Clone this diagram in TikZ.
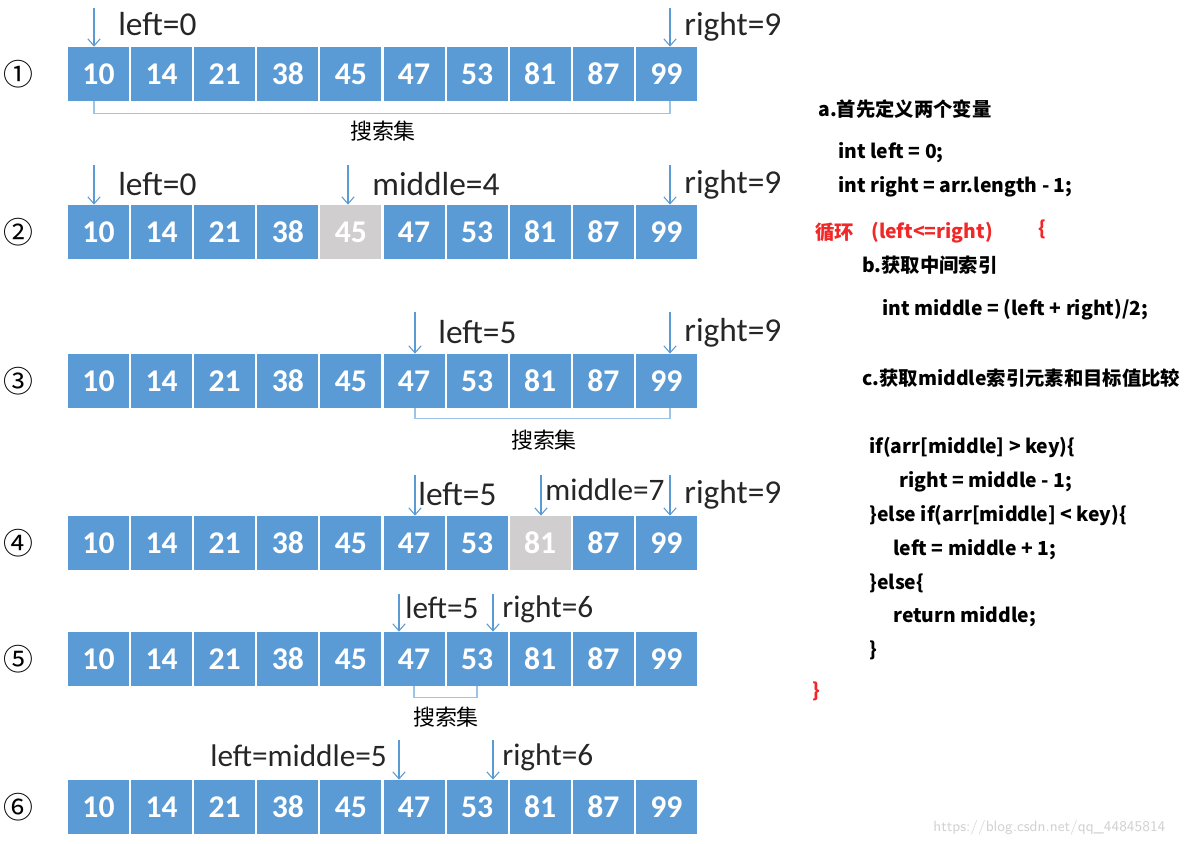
\documentclass[tikz,border=0pt]{standalone}
\usepackage{fontspec}
\setmainfont{Carlito}
\newfontfamily\cjk{Noto Sans CJK SC}
\usetikzlibrary{arrows.meta, positioning}
\definecolor{cellblue}{HTML}{5B9BD5}
\definecolor{cellgray}{HTML}{D0CECE}
\definecolor{brktblue}{HTML}{9DC3E6}
\definecolor{codered}{HTML}{F02828}

\tikzset{
  cell/.style={minimum width=1.22cm, minimum height=1.08cm, inner sep=0pt,
    text=white, font=\fontsize{18}{18}\selectfont\bfseries},
  ptr/.style={draw=cellblue, line width=0.6pt, -{Straight Barb[length=4pt,width=7pt]}},
  ptrlabel/.style={anchor=base west, inner sep=0pt, text=black!85,
    font=\fontsize{19}{19}\selectfont},
  smallptrlabel/.style={ptrlabel, font=\fontsize{17.8}{17.8}\selectfont},
  rownum/.style={inner sep=0pt, font=\cjk\fontsize{17}{17}\selectfont},
  brkt/.style={draw=brktblue, line width=0.8pt},
  setlabel/.style={inner sep=0pt, font=\cjk\fontsize{12.5}{12.5}\selectfont},
  code/.style={anchor=base west, inner sep=0pt, font=\cjk\bfseries\fontsize{11}{11}\selectfont},
  redcode/.style={code, text=codered},
}

\begin{document}
\begin{tikzpicture}[x=0.02cm, y=-0.02cm]
  \useasboundingbox (0,0) rectangle (1186,844);

  % Arrays, one per step
  \foreach \r/\y/\m/\num in {1/74/-1/①, 2/232/4/②, 3/381/-1/③, 4/543/7/④, 5/659/-1/⑤, 6/807/-1/⑥} {
    \node[rownum] (n\r) at (18,\y) {\num};
    \foreach \v [count=\i from 0] in {10,14,21,38,45,47,53,81,87,99} {
      \ifnum\i=\m\relax \def\cellcol{cellgray}\else\def\cellcol{cellblue}\fi
      \node[cell, fill=\cellcol] (r\r c\i) at ({98.5+63.1*\i},\y) {\v};
    }
  }

  % Step 1
  \coordinate (p1l) at (94,8);
  \coordinate (p1r) at (670,8);
  \draw[ptr] (p1l) -- (p1l |- r1c0.north);
  \draw[ptr] (p1r) -- (p1r |- r1c9.north);
  \node[ptrlabel] (t1l) at (118,36) {left=0};
  \node[ptrlabel] (t1r) at (684,36) {right=9};
  \draw[brkt] (p1l |- r1c0.south) -- ++(0,12) -| (p1r |- r1c9.south);
  \node[setlabel] (s1) at (383,131) {搜索集};

  % Step 2
  \coordinate (p2l) at (94,165);
  \coordinate (p2m) at (348,165);
  \coordinate (p2r) at (670,165);
  \draw[ptr] (p2l) -- (p2l |- r2c0.north);
  \draw[ptr] (p2m) -- (p2m |- r2c4.north);
  \draw[ptr] (p2r) -- (p2r |- r2c9.north);
  \node[ptrlabel] (t2l) at (118,196) {left=0};
  \node[ptrlabel] (t2m) at (372,196) {middle=4};
  \node[ptrlabel] (t2r) at (684,194) {right=9};

  % Step 3
  \coordinate (p3l) at (415,312);
  \coordinate (p3r) at (670,312);
  \draw[ptr] (p3l) -- (p3l |- r3c5.north);
  \draw[ptr] (p3r) -- (p3r |- r3c9.north);
  \node[ptrlabel] (t3l) at (438,343) {left=5};
  \node[ptrlabel] (t3r) at (684,341) {right=9};
  \draw[brkt] (p3l |- r3c5.south) -- ++(0,10) -| (p3r |- r3c9.south);
  \node[setlabel] (s3) at (544,440) {搜索集};

  % Step 4
  \coordinate (p4l) at (415,475);
  \coordinate (p4m) at (541,475);
  \coordinate (p4r) at (670,475);
  \draw[ptr] (p4l) -- (p4l |- r4c5.north);
  \draw[ptr] (p4m) -- (p4m |- r4c7.north);
  \draw[ptr] (p4r) -- (p4r |- r4c9.north);
  \node[ptrlabel] (t4l) at (418,505) {left=5};
  \node[smallptrlabel] (t4m) at (545,500) {middle=7};
  \node[ptrlabel] (t4r) at (684,503) {right=9};

  % Step 5
  \coordinate (p5l) at (399,594);
  \coordinate (p5r) at (493,594);
  \draw[ptr] (p5l) -- (p5l |- r5c5.north);
  \draw[ptr] (p5r) -- (p5r |- r5c6.north);
  \node[smallptrlabel] (t5l) at (405,618) {left=5};
  \node[smallptrlabel] (t5r) at (502,617) {right=6};
  \draw[brkt] (r5c5.south) -- ++(0,11) -| (r5c6.south);
  \node[setlabel] (s5) at (446,717) {搜索集};

  % Step 6
  \coordinate (p6l) at (399,740);
  \coordinate (p6r) at (493,740);
  \draw[ptr] (p6l) -- (p6l |- r6c5.north);
  \draw[ptr] (p6r) -- (p6r |- r6c6.north);
  \node[smallptrlabel] (t6l) at (210,766) {left=middle=5};
  \node[smallptrlabel] (t6r) at (502,765) {right=6};

  % Code notes
  \node[code] (ca) at (818,117) {a.首先定义两个变量};
  \node[code] (cl) at (838,159) {int left = 0;};
  \node[code] (cr) at (838,193) {int right = arr.length - 1;};
  \node[redcode] (cw) at (815,240) {循环};
  \node[redcode] (cc) at (871,239) {(left<=right)};
  \node[redcode] (co) at (1038,236) {\{};
  \node[code] (cb) at (862,273) {b.获取中间索引};
  \node[code] (cm) at (882,316) {int middle = (left + right)/2;};
  \node[code] (cx) at (862,385) {c.获取middle索引元素和目标值比较};
  \node[code] (k1) at (869,453) {if(arr[middle] > key)\{};
  \node[code] (k2) at (899,487) {right = middle - 1;};
  \node[code] (k3) at (869,521) {\}else if(arr[middle] < key)\{};
  \node[code] (k4) at (893,555) {left = middle + 1;};
  \node[code] (k5) at (869,589) {\}else\{};
  \node[code] (k6) at (893,622) {return middle;};
  \node[code] (k7) at (869,656) {\}};
  \node[redcode] (ce) at (812,697) {\}};

  \node[anchor=base west, inner sep=0pt, text=black!18, font=\sffamily\fontsize{8.5}{8.5}\selectfont]
    (wm) at (933,831) {https://blog.csdn.net/qq\_44845814};
\end{tikzpicture}
\end{document}
